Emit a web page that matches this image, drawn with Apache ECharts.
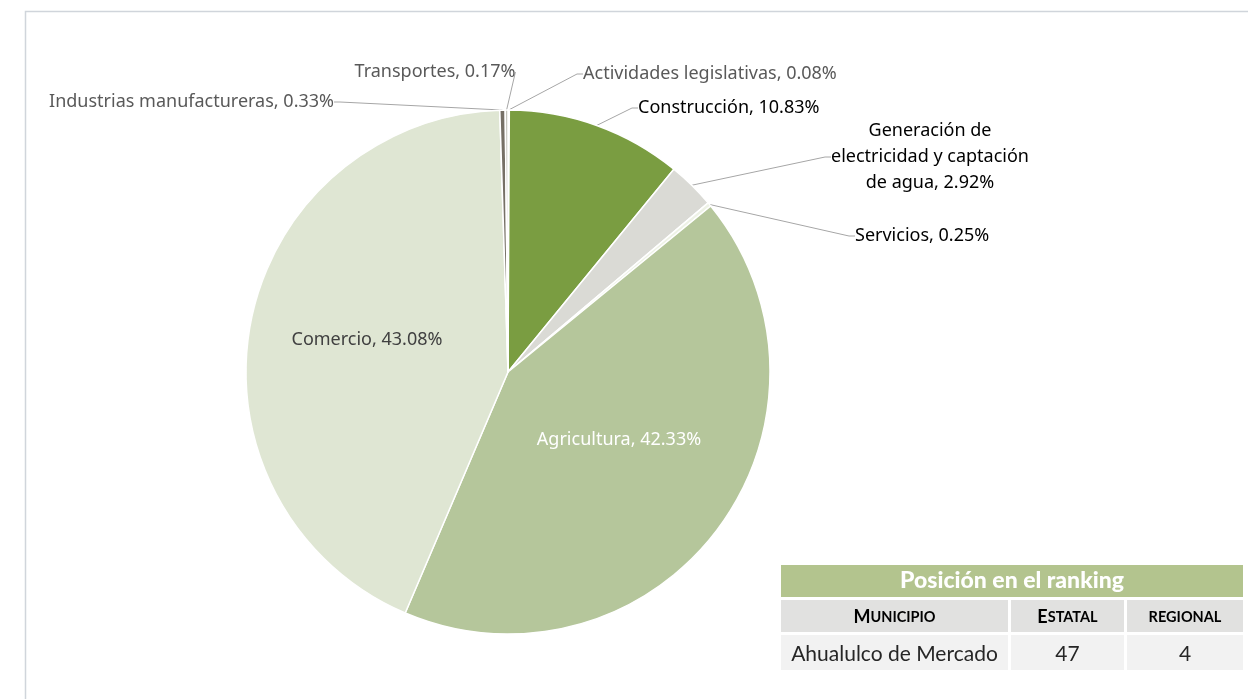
<!DOCTYPE html>
<html>
<head>
<meta charset="utf-8">
<title>Ahualulco de Mercado</title>
<script src="https://cdn.jsdelivr.net/npm/echarts@6/dist/echarts.min.js"></script>
<style>
  html, body { margin: 0; padding: 0; background: #fff; }
  #chart { width: 1248px; height: 699px; }
</style>
</head>
<body>
<div id="chart"></div>
<script>
// sectores, en el orden de Excel (desde las 12 en sentido horario)
const sectores = [
  'Actividades legislativas',
  'Construcción',
  'Generación de electricidad y captación de agua',
  'Servicios',
  'Agricultura',
  'Comercio',
  'Industrias manufactureras',
  'Transportes'
];
const porcentajes = [0.08, 10.83, 2.92, 0.25, 42.33, 43.08, 0.33, 0.17];

// tabla de ranking
const rankingTitulo = 'Posición en el ranking';
const rankingColumnas = ['Municipio', 'Estatal', 'regional'];
const rankingFila = ['Ahualulco de Mercado', '47', '4'];

// estilos por sector
const colores = ['#c9d6b3', '#7a9d41', '#dadad5', '#eef2e6', '#b5c69b', '#dfe6d3', '#767066', '#c4c4bc'];
const colorTexto = ['#595959', '#000', '#000', '#000', '#fff', '#404040', '#595959', '#595959'];
const saltos = { 2: 'Generación de\nelectricidad y captación\nde agua' };

// posiciones de etiquetas (estilo Excel)
const etiquetas = [
  { x: 583, y: 74, align: 'left' },
  { x: 638, y: 108, align: 'left' },
  { x: 930, y: 157, align: 'center' },
  { x: 855, y: 236, align: 'left' },
  { x: 619, y: 440, align: 'center' },
  { x: 367, y: 340, align: 'center' },
  { x: 334, y: 102, align: 'right' },
  { x: 435, y: 72, align: 'center' }
];

const chart = echarts.init(document.getElementById('chart'));

const data = sectores.map((s, i) => ({
  name: s,
  value: porcentajes[i],
  itemStyle: { color: colores[i] },
  label: { color: colorTexto[i] },
  labelLine: { show: i !== 4 && i !== 5 }
}));

// celdas de la tabla
const cols = [[781, 227], [1011, 113], [1127, 116]];
const tabla = [];
tabla.push({
  type: 'rect', shape: { x: 781, y: 565, width: 462, height: 32 },
  style: { fill: '#b3c48e' }
});
tabla.push({
  type: 'text', x: 1012, y: 581,
  style: {
    text: rankingTitulo, fill: '#fff', font: '900 23px Lato, "Noto Sans"',
    align: 'center', verticalAlign: 'middle'
  }
});
cols.forEach((c, i) => {
  tabla.push({
    type: 'rect', shape: { x: c[0], y: 600, width: c[1], height: 32 },
    style: { fill: '#e1e1e0' }
  });
  tabla.push({
    type: 'rect', shape: { x: c[0], y: 635, width: c[1], height: 35 },
    style: { fill: '#f2f2f2' }
  });
  const w = rankingColumnas[i];
  const capital = i < 2;
  tabla.push({
    type: 'text', x: c[0] + c[1] / 2, y: 617,
    style: {
      text: capital
        ? '{a|' + w.charAt(0).toUpperCase() + '}{b|' + w.slice(1).toUpperCase() + '}'
        : '{b|' + w.toUpperCase() + '}',
      rich: {
        a: { fontSize: 18, fontFamily: 'Lato', fontWeight: 'bold', color: '#111' },
        b: { fontSize: 14.5, fontFamily: 'Lato', fontWeight: 'bold', color: '#111' }
      },
      align: 'center', verticalAlign: 'middle'
    }
  });
  tabla.push({
    type: 'text', x: c[0] + c[1] / 2, y: 654,
    style: {
      text: rankingFila[i], fill: '#262626', font: '21px Lato, "Noto Sans"',
      align: 'center', verticalAlign: 'middle'
    }
  });
});

const option = {
  animation: false,
  textStyle: { fontFamily: '"Noto Sans", sans-serif' },
  graphic: [
    {
      type: 'rect', z: -1, silent: true,
      shape: { x: 25.5, y: 11.5, width: 1260, height: 720 },
      style: { fill: 'none', stroke: '#d0d5db', lineWidth: 1.5 }
    },
    ...tabla
  ],
  series: [
    {
      type: 'pie',
      center: [508, 372],
      radius: 262,
      startAngle: 90,
      clockwise: true,
      avoidLabelOverlap: false,
      itemStyle: { borderColor: '#fff', borderWidth: 1.5 },
      label: {
        show: true,
        fontSize: 18,
        lineHeight: 26,
        formatter: p => (saltos[p.dataIndex] || p.name) + ', ' + p.value.toFixed(2) + '%'
      },
      labelLine: {
        show: true,
        length: 10,
        length2: 6,
        lineStyle: { color: '#a6a6a6', width: 1 }
      },
      labelLayout: p => ({
        x: etiquetas[p.dataIndex].x,
        y: etiquetas[p.dataIndex].y,
        align: etiquetas[p.dataIndex].align,
        verticalAlign: 'middle'
      }),
      data: data
    }
  ]
};

chart.setOption(option);
</script>
</body>
</html>
